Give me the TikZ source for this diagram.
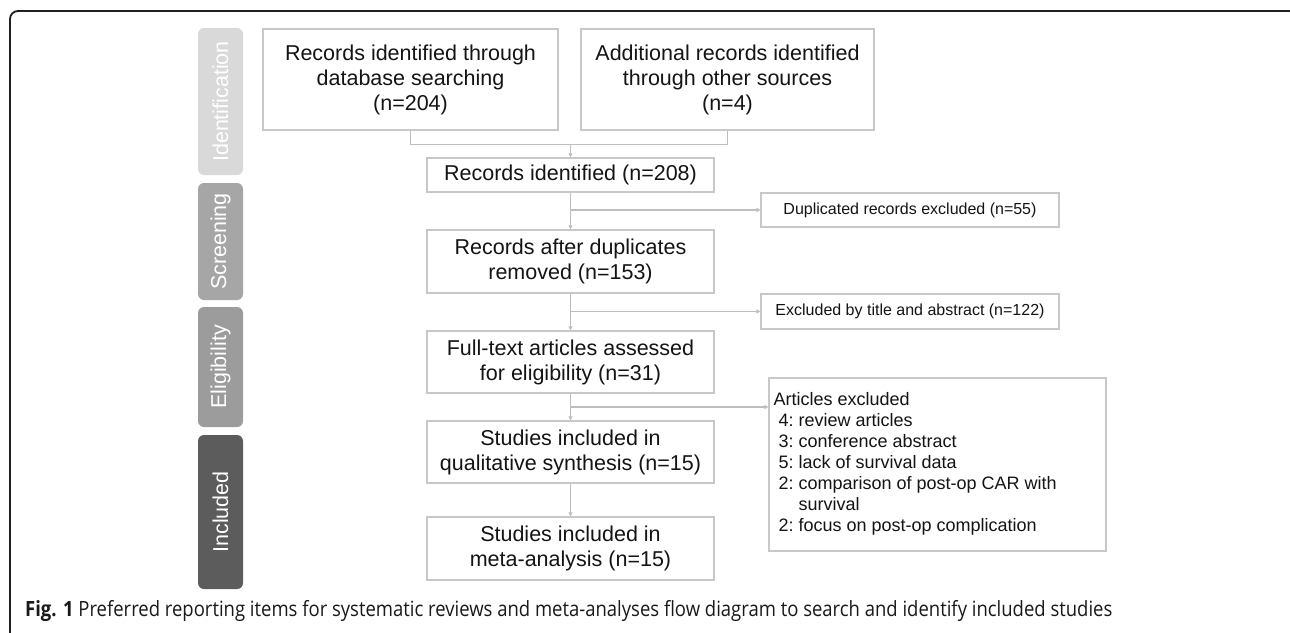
\documentclass[tikz,border=0pt]{standalone}
\usepackage{fontspec}
\setmainfont{Liberation Sans}
\newfontfamily\capfont[FakeStretch=0.88]{Open Sans}
\usetikzlibrary{arrows.meta,calc}
\definecolor{boxline}{HTML}{C8C8C8}
\definecolor{arrline}{HTML}{BEBEBE}
\definecolor{txt}{HTML}{141414}
\definecolor{phA}{HTML}{D9D9D9}
\definecolor{phB}{HTML}{A6A6A6}
\definecolor{phC}{HTML}{9C9C9C}
\definecolor{phD}{HTML}{5C5C5C}
\tikzset{
  mainbox/.style={draw=boxline, line width=1.2pt, fill=white, text=txt, align=center,
    inner sep=0pt, font=\fontsize{21.5}{25}\selectfont},
  sidebox/.style={draw=boxline, line width=1.2pt, fill=white, text=txt, align=center,
    inner sep=0pt, font=\fontsize{16}{19}\selectfont},
  phase/.style={rounded corners=6pt, minimum height=45pt, inner sep=0pt, text=white,
    rotate=90, font=\fontsize{21.5}{25}\selectfont},
  conn/.style={draw=arrline, line width=1.2pt},
  arr/.style={conn, -{Triangle[width=4pt,length=4pt]}}
}
\begin{document}
\begin{tikzpicture}[x=1pt,y=-1pt]
\useasboundingbox (0,0) rectangle (1290,632);
\clip (0,0) rectangle (1290,632);
% frame
\draw[line width=1.8pt, color=black!88, rounded corners=8pt] (10,660) -- (10,11) -- (1297,11) -- (1297,100);
% phases
\node[phase, fill=phA, minimum width=147pt] (pI) at (220.5,101.5) {Identification};
\node[phase, fill=phB, minimum width=117pt] (pS) at (220.5,241.5) {Screening};
\node[phase, fill=phC, minimum width=120pt] (pE) at (220.5,367) {Eligibility};
\node[phase, fill=phD, minimum width=154pt] (pN) at (220.5,512) {Included};
% boxes
\node[mainbox, minimum width=295pt, minimum height=101pt] (b1) at (410.5,79.5) {Records identified through\\database searching\\(n=204)};
\node[mainbox, minimum width=293pt, minimum height=101pt] (b2) at (727.5,79.5) {Additional records identified\\through other sources\\(n=4)};
\node[mainbox, minimum width=287pt, minimum height=34pt] (b3) at (570.5,175) {Records identified (n=208)};
\node[mainbox, minimum width=287pt, minimum height=63pt] (b4) at (570.5,261.5) {Records after duplicates\\removed (n=153)};
\node[mainbox, minimum width=287pt, minimum height=62pt] (b5) at (570.5,362) {Full-text articles assessed\\for eligibility (n=31)};
\node[mainbox, minimum width=287pt, minimum height=62pt] (b6) at (570.5,452) {Studies included in\\qualitative synthesis (n=15)};
\node[mainbox, minimum width=287pt, minimum height=63pt] (b7) at (570.5,548.5) {Studies included in\\meta-analysis (n=15)};
\node[sidebox, minimum width=298pt, minimum height=34pt] (d1) at (910,210) {Duplicated records excluded (n=55)};
\node[sidebox, minimum width=298pt, minimum height=35pt] (d2) at (910,311.5) {Excluded by title and abstract (n=122)};
\node[draw=boxline, line width=1.2pt, fill=white, text=txt, minimum width=337pt, minimum height=173pt, inner sep=0pt] (d3) at (937.5,464.5) {};
\node[anchor=west, text=txt, inner sep=0pt, font=\fontsize{18}{21}\selectfont] (d3t) at ([xshift=5pt]d3.west) {%
\begin{tabular}{@{}l@{\ }l@{}}
\multicolumn{2}{@{}l@{}}{Articles excluded}\\
\ 4: & review articles\\
\ 3: & conference abstract\\
\ 5: & lack of survival data\\
\ 2: & comparison of post-op CAR with\\
     & survival\\
\ 2: & focus on post-op complication
\end{tabular}};
% connectors
\coordinate (j1) at ($(b1.south)+(0,14)$);
\coordinate (j2) at (b2.south |- j1);
\coordinate (jm) at (b3.north |- j1);
\draw[conn] (b1.south) -- (j1) -- (j2) -- (b2.south);
\draw[arr] (jm) -- (b3.north);
\draw[arr] (b3.south) -- (b4.north);
\coordinate (m1) at (b3.south |- d1.west);
\draw[arr] (m1) -- (d1.west);
\draw[arr] (b4.south) -- (b5.north);
\coordinate (m2) at (b4.south |- d2.west);
\draw[arr] (m2) -- (d2.west);
\draw[arr] (b5.south) -- (b6.north);
\coordinate (m3) at ($(b5.south)!0.5!(b6.north)$);
\draw[arr] (m3) -- (m3 -| d3.west);
\draw[arr] (b6.south) -- (b7.north);
% caption
\node[anchor=base west, inner sep=0pt, text=black!90, font=\capfont\fontsize{21}{24}\selectfont] (cap) at (25,616)
  {\textbf{Fig. 1} Preferred reporting items for systematic reviews and meta-analyses flow diagram to search and identify included studies};
\end{tikzpicture}
\end{document}
